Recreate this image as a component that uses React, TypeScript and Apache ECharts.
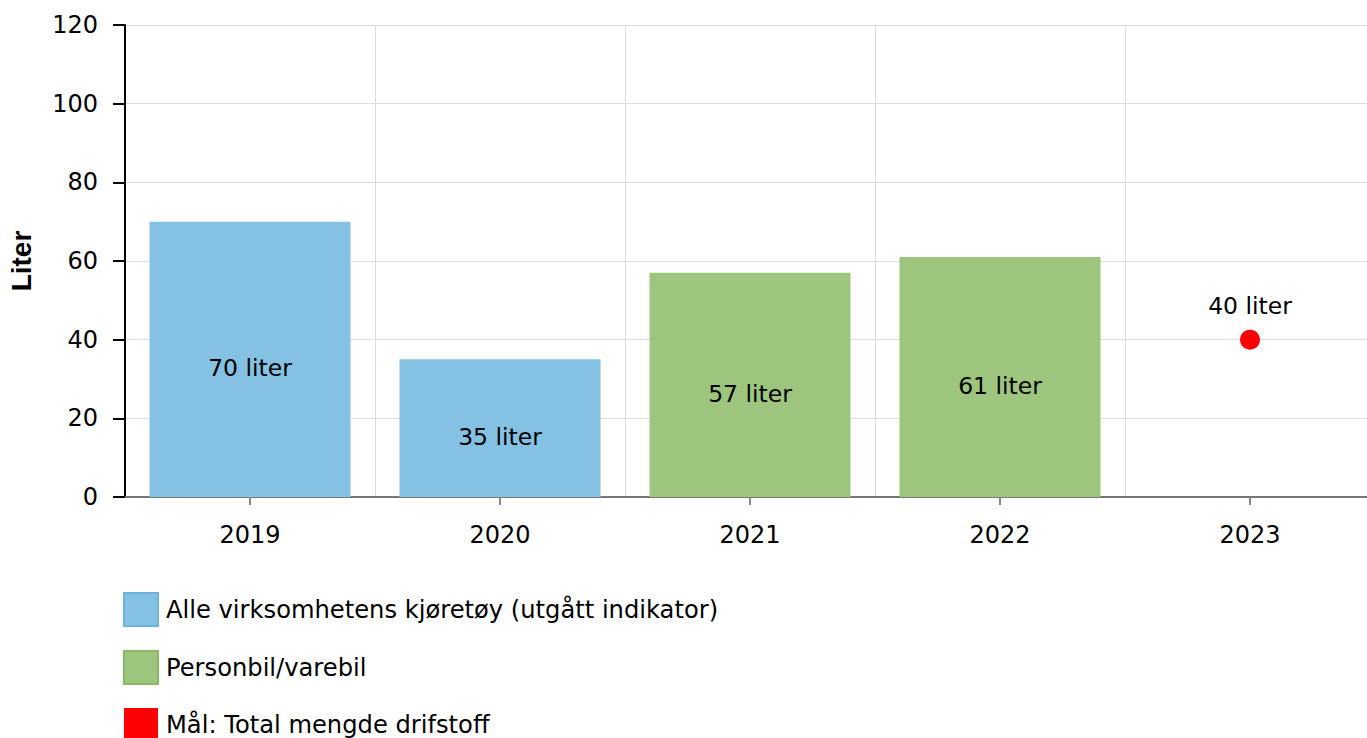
import React, { useEffect, useRef } from "react";
import * as echarts from "echarts";

const categories = ["2019", "2020", "2021", "2022", "2023"];
const alleValues = [70, 35, null, null, null];
const personbilValues = [null, null, 57, 61, null];
const maalValues = [null, null, null, null, 40];
const yTicks = { min: 0, max: 120, interval: 20 };
const seriesNames = [
  "Alle virksomhetens kjøretøy (utgått indikator)",
  "Personbil/varebil",
  "Mål: Total mengde drifstoff",
];

const FONT = "'DejaVu Sans', Verdana, sans-serif";

export default function App() {
  const ref = useRef<HTMLDivElement>(null);
  useEffect(() => {
    if (!ref.current) return;
    const chart = echarts.init(ref.current, null, { renderer: "svg" });
    const barLabel = {
      show: true,
      position: "inside",
      offset: [0, 9],
      color: "#000",
      fontFamily: FONT,
      fontSize: 23.5,
      formatter: (p: any) => `${p.value} liter`,
    };
    chart.setOption({
      animation: false,
      textStyle: { fontFamily: FONT },
      grid: { left: 125, top: 25, width: 1250, height: 472, containLabel: false, outerBoundsMode: "none" },
      xAxis: {
        type: "category",
        data: categories,
        boundaryGap: true,
        axisLine: { show: true, lineStyle: { color: "#777", width: 2 } },
        axisTick: { show: true, alignWithLabel: true, length: 8, lineStyle: { color: "#888", width: 2 } },
        axisLabel: { color: "#000", fontSize: 24, fontFamily: FONT, margin: 26 },
        splitLine: { show: true, lineStyle: { color: "#dcdcdc", width: 1 } },
      },
      yAxis: {
        type: "value",
        min: yTicks.min,
        max: yTicks.max,
        interval: yTicks.interval,
        name: "Liter",
        nameLocation: "middle",
        nameGap: 90,
        nameRotate: 90,
        nameTextStyle: {
          fontFamily: "'Liberation Sans', Arial, sans-serif",
          fontWeight: "bold",
          fontSize: 28,
          color: "#000",
        },
        axisLine: { show: true, lineStyle: { color: "#000", width: 2 } },
        axisTick: { show: true, length: 12, lineStyle: { color: "#000", width: 2 } },
        axisLabel: { color: "#000", fontSize: 24, fontFamily: FONT, margin: 27 },
        splitLine: { show: true, lineStyle: { color: "#dcdcdc", width: 1 } },
      },
      legend: {
        orient: "vertical",
        left: 123,
        top: 592,
        padding: 0,
        itemWidth: 34,
        itemHeight: 33,
        itemGap: 23,
        icon: "rect",
        textStyle: { fontFamily: FONT, fontSize: 24.2, color: "#000", padding: [0, 0, 0, 3] },
        data: [
          { name: seriesNames[0], itemStyle: { color: "#85c1e2", borderColor: "#6cb3dc", borderWidth: 2 } },
          { name: seriesNames[1], itemStyle: { color: "#9dc57e", borderColor: "#86b866", borderWidth: 2 } },
          { name: seriesNames[2], itemStyle: { color: "#ff0000", borderWidth: 0, opacity: 1 } },
        ],
      },
      series: [
        {
          name: seriesNames[0],
          type: "bar",
          stack: "s",
          data: alleValues,
          barWidth: 201,
          itemStyle: { color: "#85c1e2" },
          label: barLabel,
        },
        {
          name: seriesNames[1],
          type: "bar",
          stack: "s",
          data: personbilValues,
          barWidth: 201,
          itemStyle: { color: "#9dc57e" },
          label: barLabel,
        },
        {
          name: seriesNames[2],
          type: "scatter",
          data: maalValues,
          symbol: "circle",
          symbolSize: 20,
          itemStyle: { color: "#ff0000", opacity: 1 },
          label: {
            show: true,
            position: "top",
            distance: 12,
            color: "#000",
            opacity: 1,
            fontFamily: FONT,
            fontSize: 23.5,
            formatter: (p: any) => `${p.value} liter`,
          },
        },
      ],
    });
    return () => chart.dispose();
  }, []);
  return (
    <div style={{ position: "fixed", left: 0, top: 0, width: 1367, height: 738, overflow: "hidden", background: "#fff" }}>
      <div ref={ref} style={{ width: 1390, height: 790 }} />
    </div>
  );
}
